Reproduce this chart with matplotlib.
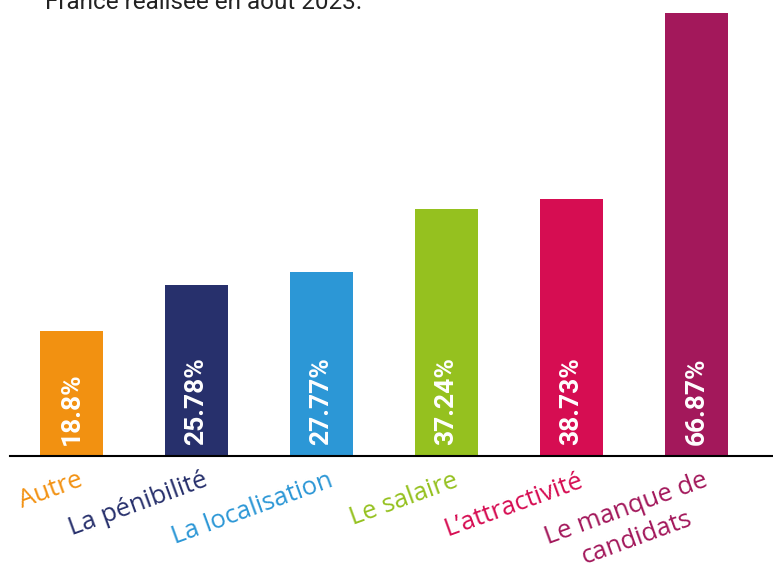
import matplotlib.pyplot as plt

categories = ['Autre', 'La pénibilité', 'La localisation', 'Le salaire',
              "L’attractivité", 'Le manque de\ncandidats']
values = [18.8, 25.78, 27.77, 37.24, 38.73, 66.87]
value_labels = ['18.8%', '25.78%', '27.77%', '37.24%', '38.73%', '66.87%']
colors = ['#F29111', '#27306C', '#2C97D6', '#95C11F', '#D60D52', '#A3185B']

fig = plt.figure(figsize=(7.73, 5.68), dpi=100)
ax = fig.add_axes([0, 112 / 568, 1, 456 / 568])

x = list(range(len(categories)))
ax.bar(x, values, width=0.504, color=colors)
ax.set_xlim(-71.5 / 125, (773 - 71.5) / 125)
ax.set_ylim(0, 456 / 6.63)

# value labels inside bars
for xi, lab in zip(x, value_labels):
    ax.text(xi, 1.6, lab, rotation=90, ha='center', va='bottom', color='white',
            fontsize=19, fontweight='bold', family='Roboto')

# category labels, rotated under the axis
for xi, cat, c in zip(x, categories, colors):
    ax.text(xi + 0.05, -1.8, cat, rotation=20, rotation_mode='anchor',
            ha='right', va='top', color=c, fontsize=18.5, family='Open Sans',
            multialignment='center', linespacing=1.3, clip_on=False)

ax.axhline(0, xmin=10 / 773, xmax=1, color='black', lw=1.5, clip_on=False)
for s in ax.spines.values():
    s.set_visible(False)
ax.set_xticks([])
ax.set_yticks([])

fig.text(45 / 773, 1 - 9 / 568, 'France réalisée en août 2023.', fontsize=17.5,
         family='Roboto', color='#222222', va='baseline', ha='left')

fig.savefig('out.png', dpi=100)
